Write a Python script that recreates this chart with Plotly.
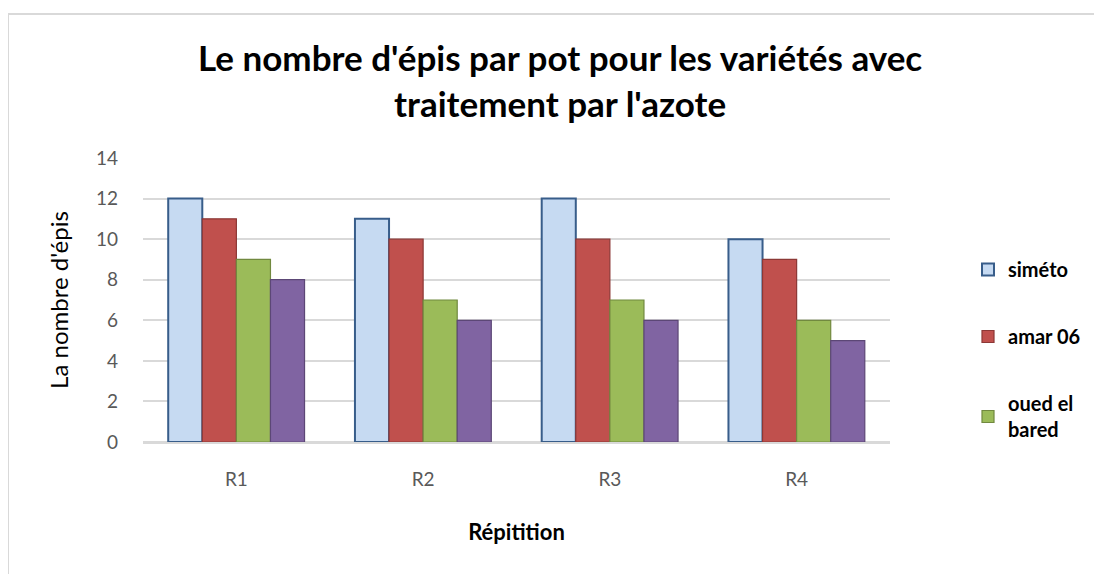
import plotly.graph_objects as go

categories = ["R1", "R2", "R3", "R4"]
series_names = ["siméto", "amar 06", "oued el<br>bared", "série 4"]
simeto = [12, 11, 12, 10]
amar06 = [11, 10, 10, 9]
oued_el_bared = [9, 7, 7, 6]
serie4 = [8, 6, 6, 5]
y_ticks = [0, 2, 4, 6, 8, 10, 12, 14]

fills = ["#C6DAF2", "#C0504D", "#9BBB59", "#8064A2"]
borders = ["#385D8A", "#8C3836", "#71893F", "#5C4776"]
border_w = [2, 1.2, 1.2, 1.2]
show = [True, True, True, False]

fig = go.Figure()
for i, (name, vals) in enumerate(zip(series_names, [simeto, amar06, oued_el_bared, serie4])):
    fig.add_trace(go.Bar(
        x=categories, y=vals, name=name,
        marker=dict(color=fills[i], line=dict(color=borders[i], width=border_w[i])),
        showlegend=show[i], legendgroup=f"g{i}",
    ))

font_family = "Lato, 'Open Sans', sans-serif"
L, R, T, B = 135, 220, 150, 140
PW, PH = 1102 - L - R, 574 - T - B
fig.update_layout(
    width=1102, height=574,
    margin=dict(l=L, r=R, t=T, b=B),
    paper_bgcolor="white", plot_bgcolor="white",
    barmode="group", bargap=0.27, bargroupgap=0,
    font=dict(family=font_family, color="#404040", size=19),
    title=dict(text="<b>Le nombre d'épis par pot pour les variétés avec<br>traitement par l'azote</b>",
               x=0.501, xanchor="center", y=0.890, yanchor="middle",
               font=dict(size=35, color="#000000", family=font_family)),
    xaxis=dict(showgrid=False, showline=True, linecolor="#D9D9D9", linewidth=1.5,
               ticks="", ticklabelstandoff=19, tickfont=dict(size=19, color="#595959"),
               title=dict(text="<b>Répitition</b>", font=dict(size=22, color="#000000"), standoff=36)),
    yaxis=dict(range=[0, 14], tickvals=y_ticks, showgrid=True, gridcolor="#D9D9D9", gridwidth=1.5,
               zeroline=True, zerolinecolor="#D9D9D9", zerolinewidth=1.5, ticks="", ticklabelstandoff=24,
               tickfont=dict(size=19, color="#595959"),
               title=dict(text="La nombre d'épis", font=dict(size=24, color="#000000"), standoff=20)),
    legend=dict(x=(960 - L) / PW, y=0.676, xanchor="left", yanchor="top",
                font=dict(size=20, color="#000000", family=font_family, weight="bold"),
                tracegroupgap=38, bgcolor="rgba(0,0,0,0)", itemwidth=30,
                traceorder="grouped"),
    shapes=[dict(type="rect", xref="paper", yref="paper",
                 x0=-L / PW, x1=(1102 - L + 5) / PW, y0=-(B + 5) / PH, y1=(PH + T - 6) / PH,
                 line=dict(color="#D9D9D9", width=2), fillcolor="rgba(0,0,0,0)", layer="below")],
)
fig.write_html("out.html")
